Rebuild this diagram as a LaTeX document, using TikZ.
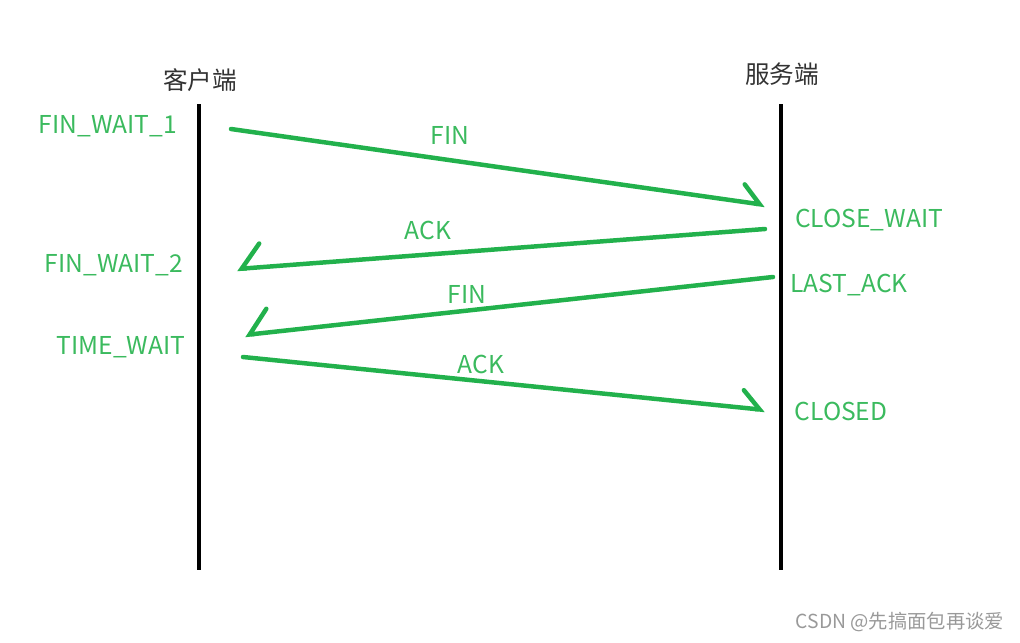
\documentclass[tikz,border=0pt]{standalone}
\usepackage{fontspec}
\setmainfont{Noto Sans CJK SC}
\usetikzlibrary{arrows.meta}

\definecolor{pengreen}{HTML}{22B14C}
\definecolor{txtgreen}{HTML}{3BBA5E}

\tikzset{
  timeline/.style={line width=4pt*0.567, black},
  state/.style={anchor=base, text=txtgreen, font=\fontsize{14}{16}\selectfont},
  msglabel/.style={anchor=base, text=txtgreen, font=\fontsize{14}{16}\selectfont},
  side/.style={anchor=center, text=black!80, font=\fontsize{14}{16}\selectfont},
  msg/.style={pengreen, line width=4.5pt*0.567, line cap=round},
  toserver/.style={msg, -{Straight Barb[left, length=10pt, width=20pt, line cap=round]}},
  toclient/.style={msg, -{Straight Barb[right, length=11pt, width=27pt, line cap=round]}}
}

\begin{document}
\begin{tikzpicture}[x=0.02cm, y=-0.02cm]
      \useasboundingbox (0,0) rectangle (1020,642);
      % the two ends
      \node[side] (client) at (200, 80) {客户端};
      \node[side] (server) at (782, 74) {服务端};
      \coordinate (ctop) at (199, 104);
      \coordinate (cbot) at (199, 570);
      \coordinate (stop) at (781, 104);
      \coordinate (sbot) at (781, 570);
      \draw[timeline] (ctop) -- (cbot);
      \draw[timeline] (stop) -- (sbot);
      % states
      \node[state] (finwait1) at (108, 133) {FIN\_WAIT\_1};
      \node[state] (finwait2) at (114, 272) {FIN\_WAIT\_2};
      \node[state] (timewait) at (121, 354) {TIME\_WAIT};
      \node[state] (closewait) at (869, 227) {CLOSE\_WAIT};
      \node[state] (lastack) at (849, 292) {LAST\_ACK};
      \node[state] (closed) at (841, 420) {CLOSED};
      % messages
      \coordinate (fin1s) at (231, 129);
      \coordinate (fin1e) at (765, 205);
      \coordinate (ack1s) at (765, 229);
      \coordinate (ack1e) at (237, 269);
      \coordinate (fin2s) at (773, 277);
      \coordinate (fin2e) at (245, 335);
      \coordinate (ack2s) at (243, 357);
      \coordinate (ack2e) at (765, 410);
      \draw[toserver] (fin1s) -- (fin1e);
      \draw[toclient] (ack1s) -- (ack1e);
      \draw[toclient] (fin2s) -- (fin2e);
      \draw[toserver] (ack2s) -- (ack2e);
      \node[msglabel] (fin1) at (450, 144) {FIN};
      \node[msglabel] (ack1) at (428, 239) {ACK};
      \node[msglabel] (fin2) at (467, 303) {FIN};
      \node[msglabel] (ack2) at (481, 373) {ACK};
      \node[anchor=center, text=black!40, font=\fontsize{11}{13}\selectfont] (mark) at (900, 622) {CSDN @先搞面包再谈爱};
    \end{tikzpicture}
\end{document}
